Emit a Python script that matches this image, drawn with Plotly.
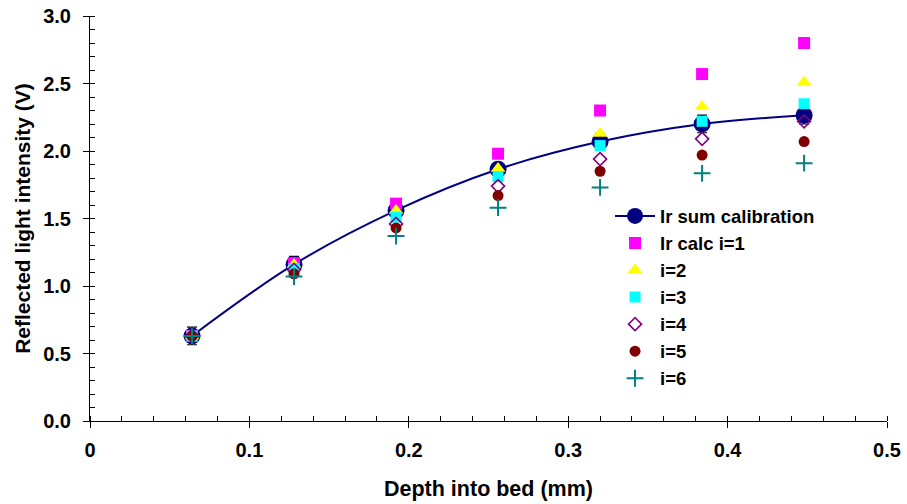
import plotly.graph_objects as go

depth = [0.064, 0.128, 0.192, 0.256, 0.320, 0.384, 0.448]
ir_sum = [0.63, 1.16, 1.56, 1.865, 2.07, 2.20, 2.265]
ir_sum_err = [0.065, 0.06, 0.05, 0.05, 0.06, 0.065, 0.065]
calc_i1 = [0.63, 1.17, 1.61, 1.98, 2.30, 2.57, 2.80]
calc_i2 = [0.63, 1.16, 1.56, 1.87, 2.13, 2.33, 2.51]
calc_i3 = [0.63, 1.13, 1.51, 1.81, 2.04, 2.22, 2.35]
calc_i4 = [0.63, 1.12, 1.46, 1.74, 1.94, 2.09, 2.22]
calc_i5 = [0.63, 1.09, 1.43, 1.67, 1.85, 1.97, 2.07]
calc_i6 = [0.63, 1.07, 1.37, 1.58, 1.73, 1.835, 1.91]

x_ticks = [0, 0.1, 0.2, 0.3, 0.4, 0.5]
x_ticklabels = ["0", "0.1", "0.2", "0.3", "0.4", "0.5"]
y_ticks = [0.0, 0.5, 1.0, 1.5, 2.0, 2.5, 3.0]
y_ticklabels = ["0.0", "0.5", "1.0", "1.5", "2.0", "2.5", "3.0"]

FONT = "Liberation Sans, Arial, sans-serif"

fig = go.Figure()

fig.add_trace(go.Scatter(
    x=depth, y=ir_sum, name="Ir sum calibration", mode="lines+markers",
    line=dict(color="#000080", width=2, shape="spline", smoothing=1.0),
    marker=dict(symbol="circle", size=17, color="#000080"),
    error_y=dict(type="data", array=ir_sum_err, visible=True,
                 color="black", thickness=1.2, width=5),
))

series = [
    ("Ir calc i=1", calc_i1, "square", 12, "#FF00FF", None),
    ("i=2", calc_i2, "triangle-up", 13, "#FFFF00", None),
    ("i=3", calc_i3, "square", 11, "#00FFFF", None),
    ("i=4", calc_i4, "diamond-open", 10, "#800080", 1.6),
    ("i=5", calc_i5, "circle", 11, "#800000", None),
    ("i=6", calc_i6, "cross-thin-open", 12, "#008080", 2),
]
for name, vals, sym, sz, col, lw in series:
    mk = dict(symbol=sym, size=sz, color=col)
    if lw is not None:
        mk["line"] = dict(color=col, width=lw)
    fig.add_trace(go.Scatter(x=depth, y=vals, name=name, mode="markers", marker=mk))

fig.update_layout(
    width=907, height=504,
    margin=dict(l=90, r=20, t=16, b=83, autoexpand=False),
    paper_bgcolor="white", plot_bgcolor="white",
    font=dict(family=FONT, color="black", size=18),
    showlegend=True,
    legend=dict(
        x=0.6525, y=0.552, xanchor="left", yanchor="top",
        bgcolor="rgba(0,0,0,0)", itemwidth=40,
        font=dict(family=FONT, size=18.5, weight="bold", color="black"),
        itemsizing="trace",
    ),
    xaxis=dict(
        range=[0, 0.5], tickvals=x_ticks, ticktext=x_ticklabels, automargin=False,
        showgrid=False, zeroline=False, showline=True, linecolor="black", linewidth=1,
        ticks="outside", ticklen=6, tickcolor="black", tickwidth=1,
        ticklabelstandoff=5, ticklabeloverflow="allow",
        minor=dict(dtick=0.02, ticks="inside", ticklen=5, tickcolor="black", tickwidth=1),
        tickfont=dict(family=FONT, size=20, weight="bold"),
        title=dict(text="Depth into bed (mm)", standoff=20,
                   font=dict(family=FONT, size=21.5, weight="bold")),
    ),
    yaxis=dict(
        range=[0, 3.0], tickvals=y_ticks, ticktext=y_ticklabels, automargin=False,
        showgrid=False, zeroline=False, showline=True, linecolor="black", linewidth=1,
        ticks="outside", ticklen=6, tickcolor="black", tickwidth=1,
        ticklabelstandoff=8, ticklabeloverflow="allow",
        minor=dict(dtick=0.1, ticks="inside", ticklen=5, tickcolor="black", tickwidth=1),
        tickfont=dict(family=FONT, size=20, weight="bold"),
        title=dict(text="Reflected light intensity (V)", standoff=6,
                   font=dict(family=FONT, size=21, weight="bold")),
    ),
)

# remove the browser's default 8px body margin so the figure fills the window exactly
fig.write_html("out.html", config={"displayModeBar": False},
               post_script="document.body.style.margin='0px';")
